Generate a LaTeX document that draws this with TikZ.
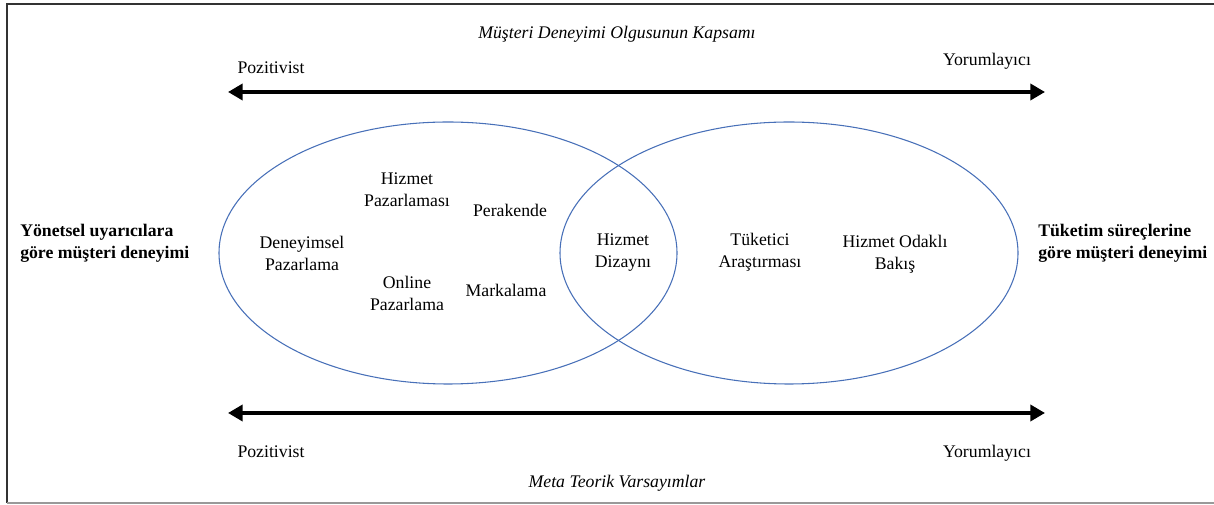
\documentclass[tikz,border=0pt]{standalone}
\usepackage{fontspec}
\setmainfont{Liberation Serif}
\usetikzlibrary{arrows.meta}
\definecolor{vennblue}{RGB}{72,112,184}

\begin{document}
\begin{tikzpicture}[
    x=0.75pt, y=-0.75pt,
    lbl/.style={font=\fontsize{13.3}{16.5}\selectfont, align=center, inner sep=0pt},
    side/.style={lbl, font=\fontsize{13.3}{16.5}\selectfont\bfseries, align=left, anchor=west},
    ttl/.style={lbl, font=\fontsize{13.3}{16.5}\selectfont\itshape},
    scalearr/.style={{Triangle[length=11pt,width=12pt]}-{Triangle[length=11pt,width=12pt]}, line width=3pt},
    venn/.style={draw=vennblue, line width=0.8pt},
]
  \useasboundingbox (0,0) rectangle (1214,505);

  % frame
  \draw[line width=1.5pt, black!80] (1214,4) -- (7,4) -- (7,503);
  \draw[line width=0.8pt, black!40] (7,503) -- (1214,503);

  % titles
  \node[ttl] (scope) at (617,34)  {Müşteri Deneyimi Olgusunun Kapsamı};
  \node[ttl] (meta)  at (617,483) {Meta Teorik Varsayımlar};

  % scales
  \node[lbl] (posT) at (271,68)  {Pozitivist};
  \node[lbl] (yorT) at (987,61)  {Yorumlayıcı};
  \node[lbl] (posB) at (271,452) {Pozitivist};
  \node[lbl] (yorB) at (987,453) {Yorumlayıcı};
  \coordinate (arrTL) at (228,92);
  \coordinate (arrTR) at (1045,92);
  \coordinate (arrBL) at (228,413);
  \coordinate (arrBR) at (1045,413);
  \draw[scalearr] (arrTL) -- (arrTR);
  \draw[scalearr] (arrBL) -- (arrBR);

  % venn
  \draw[venn] (448,253) ellipse [x radius=229, y radius=131];
  \draw[venn] (789,253) ellipse [x radius=229, y radius=131];

  % sides
  \node[side] (mgr) at (20,243)   {Yönetsel uyarıcılara\\göre müşteri deneyimi};
  \node[side] (cns) at (1038,243) {Tüketim süreçlerine\\göre müşteri deneyimi};

  % left set
  \node[lbl] (hzp) at (407,190) {Hizmet\\Pazarlaması};
  \node[lbl] (per) at (510,210) {Perakende};
  \node[lbl] (dny) at (302,253) {Deneyimsel\\Pazarlama};
  \node[lbl] (onl) at (407,293) {Online\\Pazarlama};
  \node[lbl] (mrk) at (506,290) {Markalama};

  % overlap and right set
  \node[lbl] (hzd) at (623,253) {Hizmet\\Dizaynı};
  \node[lbl] (tkt) at (760,252) {Tüketici\\Araştırması};
  \node[lbl] (hob) at (895,254) {Hizmet Odaklı\\Bakış};
\end{tikzpicture}
\end{document}
